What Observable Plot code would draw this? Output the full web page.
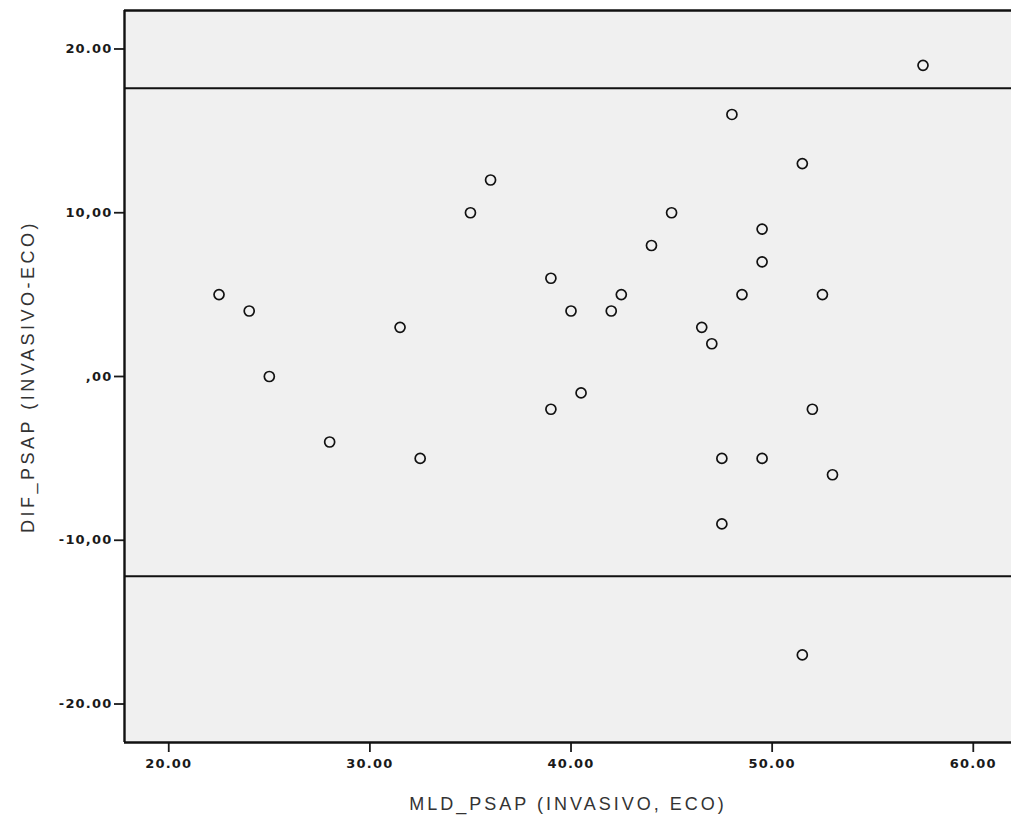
<!DOCTYPE html>
<html>
<head>
<meta charset="utf-8">
<script src="https://cdn.jsdelivr.net/npm/d3@7"></script>
<script src="https://cdn.jsdelivr.net/npm/@observablehq/plot@0.6"></script>
<style>
  html, body { margin: 0; padding: 0; background: #fff; }
  #chart svg [aria-label="x-axis tick label"] text,
  #chart svg [aria-label="y-axis tick label"] text { letter-spacing: 1.2px; }
  #chart svg [aria-label="x-axis label"] text { letter-spacing: 3px; }
  #chart svg [aria-label="y-axis label"] text { letter-spacing: 3.5px; }
</style>
</head>
<body>
<div id="chart"></div>
<script>
// Data: MLD_PSAP (mean of invasive and echo) vs DIF_PSAP (invasive - echo)
const meanPSAP = [22.5, 24, 25, 28, 31.5, 32.5, 35, 36, 39, 39, 40, 40.5, 42, 42.5, 44, 45, 46.5, 47, 47.5, 47.5, 48, 48.5, 49.5, 49.5, 49.5, 51.5, 51.5, 52, 52.5, 53, 57.5];
const difPSAP  = [5, 4, 0, -4, 3, -5, 10, 12, 6, -2, 4, -1, 4, 5, 8, 10, 3, 2, -5, -9, 16, 5, 9, 7, -5, 13, -17, -2, 5, -6, 19];

// Limits of agreement lines
const limitLines = [17.6, -12.2];

// Axis domains and ticks
const xDomain = [17.8, 61.9];
const yDomain = [-22.35, 22.35];
const xTicks = [20, 30, 40, 50, 60];
const xTickLabels = ["20.00", "30.00", "40.00", "50.00", "60.00"];
const yTicks = [20, 10, 0, -10, -20];
const yTickLabels = ["20.00", "10,00", ",00", "-10,00", "-20.00"];

const xLabel = "MLD_PSAP (INVASIVO, ECO)";
const yLabel = "DIF_PSAP (INVASIVO-ECO)";

const points = meanPSAP.map((x, i) => ({x, y: difPSAP[i]}));

const chart = Plot.plot({
  width: 1011,
  height: 820,
  marginLeft: 124,
  marginTop: 10,
  marginRight: 0,
  marginBottom: 78,
  style: {background: "#fff", color: "#1a1a1a"},
  x: {domain: xDomain},
  y: {domain: yDomain},
  marks: [
    Plot.frame({fill: "#f0f0f0", stroke: null}),
    Plot.ruleY(limitLines, {stroke: "#111", strokeWidth: 2}),
    Plot.axisX({
      ticks: xTicks,
      tickFormat: d => xTickLabels[xTicks.indexOf(d)],
      tickSize: 10,
      tickPadding: 6,
      strokeWidth: 1.8,
      fontSize: 13,
      fontWeight: "bold",
      fontFamily: "DejaVu Sans",
      fill: "#1a1a1a",
      label: xLabel,
      labelAnchor: "center",
      labelArrow: "none",
      labelOffset: 67
    }),
    Plot.axisY({
      ticks: yTicks,
      tickFormat: d => yTickLabels[yTicks.indexOf(d)],
      tickSize: 10,
      tickPadding: 2,
      strokeWidth: 1.8,
      fontSize: 13,
      fontWeight: "bold",
      fontFamily: "DejaVu Sans",
      fill: "#1a1a1a",
      label: yLabel,
      labelAnchor: "center",
      labelArrow: "none",
      labelOffset: 103
    }),
    Plot.ruleX([xDomain[0]], {stroke: "#111", strokeWidth: 2.4}),
    Plot.ruleY([yDomain[0], yDomain[1]], {stroke: "#111", strokeWidth: 2.4}),
    Plot.dot(points, {x: "x", y: "y", r: 5, stroke: "#111", strokeWidth: 1.7, fill: "none"})
  ]
});

// Axis label fonts
chart.querySelectorAll('[aria-label="x-axis label"] text, [aria-label="y-axis label"] text').forEach(t => {
  t.setAttribute("font-size", "18");
  t.setAttribute("font-family", "Liberation Sans, Arial, sans-serif");
  t.setAttribute("font-weight", "normal");
  t.setAttribute("fill", "#333");
});

document.getElementById("chart").appendChild(chart);
</script>
</body>
</html>
